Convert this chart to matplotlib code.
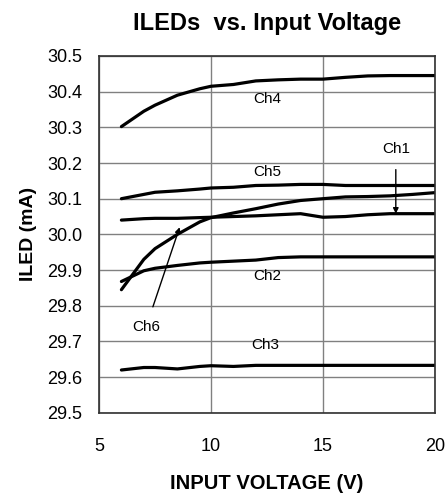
import matplotlib
matplotlib.use('Agg')
from matplotlib import pyplot as plt

plt.rcParams['font.family'] = ['Liberation Sans', 'DejaVu Sans']

# input voltage (V)
vin = [6, 7, 7.5, 8.5, 9.5, 10, 11, 12, 13, 14, 15, 16, 17, 18, 19, 20]

# LED current per channel (mA)
ch1 = [30.040, 30.044, 30.045, 30.045, 30.047, 30.048, 30.050, 30.052, 30.055, 30.058, 30.048, 30.050, 30.055, 30.058, 30.058, 30.058]
ch2 = [29.868, 29.898, 29.905, 29.913, 29.920, 29.922, 29.925, 29.928, 29.935, 29.937, 29.937, 29.937, 29.937, 29.937, 29.937, 29.937]
ch3 = [29.620, 29.627, 29.627, 29.623, 29.630, 29.632, 29.630, 29.633, 29.633, 29.633, 29.633, 29.633, 29.633, 29.633, 29.633, 29.633]
ch4 = [30.302, 30.345, 30.362, 30.390, 30.408, 30.415, 30.420, 30.430, 30.433, 30.435, 30.435, 30.440, 30.444, 30.445, 30.445, 30.445]
ch5 = [30.100, 30.112, 30.118, 30.122, 30.127, 30.130, 30.132, 30.137, 30.138, 30.140, 30.140, 30.137, 30.137, 30.137, 30.137, 30.137]
ch6 = [29.845, 29.930, 29.960, 30.000, 30.035, 30.047, 30.060, 30.072, 30.085, 30.095, 30.100, 30.105, 30.106, 30.108, 30.112, 30.117]

fig = plt.figure(figsize=(4.48, 4.95), dpi=100)
ax = fig.add_axes([0.221, 0.166, 0.750, 0.721])

for ys in [ch4, ch5, ch1, ch6, ch2, ch3]:
    ax.plot(vin, ys, c='black', lw=2.3, solid_capstyle='round')

ax.set_xlim(5, 20)
ax.set_ylim(29.5, 30.5)
ax.set_xticks([5, 10, 15, 20])
ax.set_yticks([29.5 + 0.1 * i for i in range(11)])
ax.set_yticklabels(['%.1f' % (29.5 + 0.1 * i) for i in range(11)])
ax.grid(True, color='#808080', lw=1)
ax.tick_params(axis='both', length=0, labelsize=13)
ax.tick_params(axis='y', pad=12)
ax.tick_params(axis='x', pad=18)
for s in ax.spines.values():
    s.set_color('#303030')
    s.set_linewidth(1.2)

# channel labels
ax.text(12.5, 30.378, 'Ch4', fontsize=11, ha='center', va='center')
ax.text(12.5, 30.175, 'Ch5', fontsize=11, ha='center', va='center')
ax.text(12.5, 29.882, 'Ch2', fontsize=11, ha='center', va='center')
ax.text(12.4, 29.69, 'Ch3', fontsize=11, ha='center', va='center')
ax.annotate('Ch1', xy=(18.25, 30.058), xytext=(18.25, 30.24), fontsize=11,
            ha='center', va='center',
            arrowprops=dict(arrowstyle='-|>', color='black', lw=1, shrinkA=8, shrinkB=0, mutation_scale=8))
ax.annotate('Ch6', xy=(8.6, 30.02), xytext=(7.1, 29.74), fontsize=11,
            ha='center', va='center',
            arrowprops=dict(arrowstyle='-|>', color='black', lw=1, shrinkA=8, shrinkB=0, mutation_scale=8))

ax.set_title('ILEDs  vs. Input Voltage', fontsize=17, fontweight='bold', pad=19)
ax.set_xlabel('INPUT VOLTAGE (V)', fontsize=14.5, fontweight='bold', labelpad=14)
ax.set_ylabel('ILED (mA)', fontsize=14, fontweight='bold', labelpad=7)

plt.savefig('out.png', dpi=100)
